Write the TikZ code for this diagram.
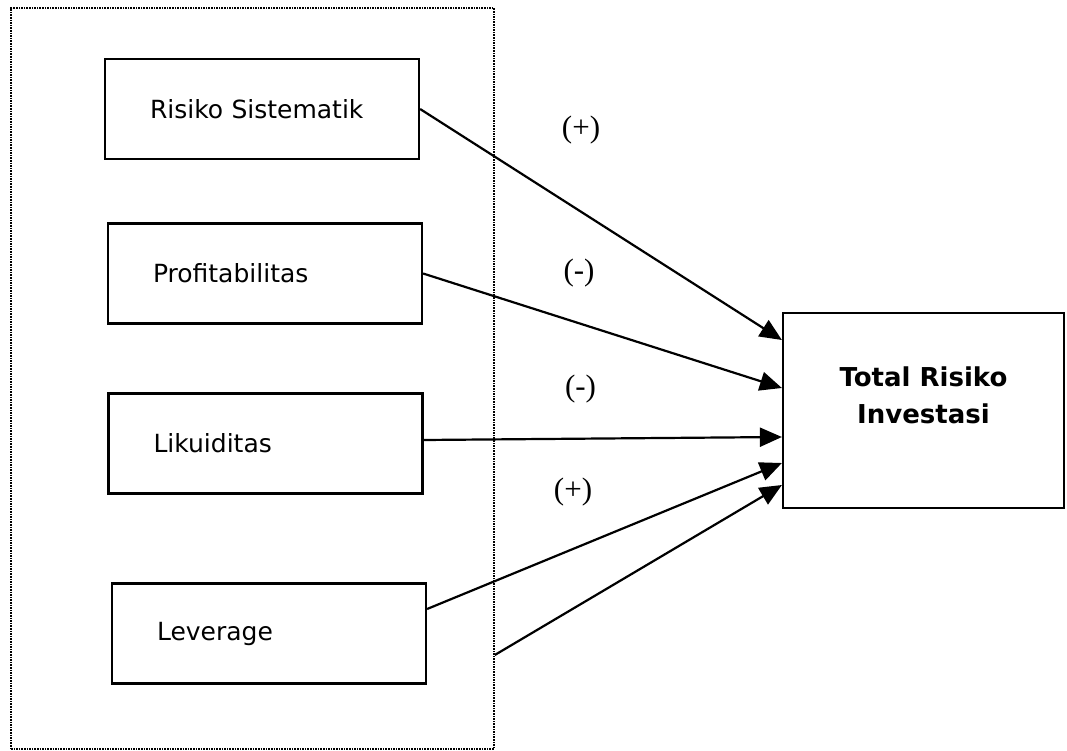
\documentclass[tikz,border=0pt]{standalone}
\usepackage{fontspec}
\setmainfont{DejaVu Sans}
\newfontfamily\signfont{Liberation Serif}
\usetikzlibrary{arrows.meta,calc}
\begin{document}
\begin{tikzpicture}[x=1pt,y=-1pt,
  varbox/.style={draw, line width=2.2pt, minimum width=314pt, minimum height=100pt,
    text width=224pt, inner xsep=45pt, align=left, font=\fontsize{25}{30}\selectfont},
  group/.style={draw, densely dotted, line width=1.6pt, minimum width=483pt,
    minimum height=741pt, inner sep=0pt},
  target/.style={draw, line width=2.2pt, minimum width=281pt, minimum height=195pt,
    align=center, font=\bfseries\fontsize{26}{37}\selectfont},
  link/.style={line width=2.2pt, -{Triangle[length=22pt,width=19pt]}},
  sign/.style={font=\signfont\fontsize{31}{36}\selectfont, inner sep=0pt}
]
\useasboundingbox (0,0) rectangle (1067,751);
\fill[white] (0,0) rectangle (1067,751);

\node[group] (grp) at (252.5,378.5) {};
\node[varbox] (b1) at (262,109) {Risiko Sistematik};
\node[varbox] (b2) at (265,273.5) {Profitabilitas};
\node[varbox] (b3) at (265.5,443.5) {Likuiditas};
\node[varbox] (b4) at (269,633.5) {Leverage};

\node[target] (tgt) at (923.5,410.5) {Total Risiko\\Investasi\\[-6pt]\mbox{}};

\draw[link] (b1.east) -- ([yshift=70.5pt]tgt.west);
\draw[link] (b2.east) -- ([yshift=22.5pt]tgt.west);
\draw[link] ([yshift=3.5pt]b3.east) -- ([yshift=-26.5pt]tgt.west);
\draw[link] ([yshift=24.5pt]b4.east) -- ([yshift=-52.5pt]tgt.west);
\draw[link] ([yshift=-276.5pt]grp.east) -- ([yshift=-74.5pt]tgt.west);

\node[sign] (s1) at (581,130) {(+)};
\node[sign] (s2) at (579,273) {(-)};
\node[sign] (s3) at (580.5,389) {(-)};
\node[sign] (s4) at (573,492.5) {(+)};
\end{tikzpicture}
\end{document}
